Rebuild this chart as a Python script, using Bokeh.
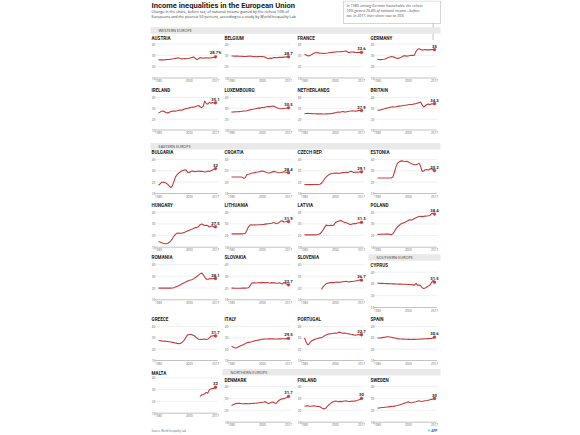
from bokeh.plotting import figure
from bokeh.models import Range1d
from bokeh.core.properties import value
from bokeh.embed import file_html
from bokeh.resources import INLINE

nan = float("nan")

# ---------------- data ----------------
years = list(range(1980, 2018))
y_ticks = [40, 30, 20, 10]
y_tick_labels = ["40", "30", "20", "10"]
x_ticks = [1980, 2000, 2017]
x_tick_labels = ["1980", "2000", "2017"]
grid_values = [20, 30, 40]

austria = [26.0,26.0,26.1,26.0,26.1,26.2,26.3,26.4,26.6,26.8, 27.0,27.3,27.6,27.8,27.2,26.9,27.0,27.1,27.0,27.2,
           27.4,27.8,28.2,28.5,27.2,26.2,27.0,27.8,27.9,27.5, 27.6,27.9,27.6,27.5,27.8,28.0,28.2,28.7]
belgium = [29.4,29.4,29.3,29.3,29.3,29.2,29.2,29.1,29.0,29.0, 29.1,29.2,29.3,29.2,29.0,28.9,28.8,28.9,29.0,29.0,
           28.9,28.7,28.2,27.4,27.0,27.6,27.3,27.9,28.1,27.8, 28.0,28.2,28.3,28.2,28.4,28.5,28.6,28.7]
france = [31.0,30.3,29.6,29.5,30.2,31.0,31.8,32.3,32.5,32.2, 31.9,31.8,31.7,31.6,31.8,32.0,32.3,32.5,32.6,32.8,
          33.0,33.1,33.2,33.2,33.3,33.4,33.6,33.8,33.0,32.2, 33.0,32.9,32.8,32.6,32.5,32.7,32.6,32.6]
germany = [26.4,26.3,26.2,26.3,26.5,26.8,27.4,28.0,28.6,29.0, 28.8,28.2,27.6,27.3,27.5,28.0,28.8,29.6,29.5,29.3,
           29.4,29.8,30.0,30.0,30.2,33.5,35.4,35.8,35.2,34.6, 34.9,35.0,34.8,34.9,34.8,35.1,35.0,35.0]
ireland = [25.8,26.5,27.3,27.6,26.8,25.9,25.8,26.3,27.0,27.4, 27.6,27.4,27.8,28.3,28.5,28.3,28.8,29.3,29.8,30.0,
           30.4,30.8,31.2,31.0,31.6,32.2,32.6,31.5,30.6,31.8, 36.8,34.5,33.8,35.6,34.6,35.4,35.0,35.1]
luxembourg = [26.5,26.6,26.7,26.8,26.9,27.0,27.1,27.3,27.5,27.6, 27.8,28.2,28.6,28.9,29.2,29.4,29.8,30.1,30.4,30.2,
              31.0,30.6,31.2,31.5,31.8,31.4,31.9,32.2,31.6,30.8, 30.3,29.8,29.6,29.7,29.9,30.1,30.2,30.5]
netherlands = [25.0,25.2,25.4,25.3,25.2,25.1,25.0,25.0,24.9,24.9, 24.9,24.9,24.8,24.8,24.9,24.9,25.0,25.1,25.2,25.6,
               26.0,26.4,26.6,26.4,26.8,27.0,26.7,26.6,27.0,27.3, 27.5,27.8,27.6,27.4,27.5,27.9,28.2,27.9]
britain = [28.2,28.3,28.6,29.0,29.4,29.8,30.2,30.5,30.9,31.2, 31.4,31.3,31.5,31.8,32.0,32.2,32.4,32.6,32.8,33.0,
           33.3,33.5,33.6,33.8,34.1,34.4,34.8,35.3,35.8,33.2, 31.2,32.4,33.6,34.0,33.4,34.2,34.0,34.3]
bulgaria = [17.3,18.5,19.8,20.2,19.6,19.2,18.0,16.5,15.2,16.8, 20.5,24.5,26.5,28.0,29.0,29.8,30.4,31.0,30.6,28.5,
            28.6,29.4,29.8,29.5,29.2,29.6,29.8,29.5,29.7,29.4, 28.9,29.2,29.8,29.5,30.0,30.8,31.5,32.0]
croatia = [24.6,24.6,24.5,24.6,24.6,24.5,24.6,24.4,23.3,24.0, 26.7,27.0,27.4,27.8,28.1,28.4,28.7,28.9,29.2,29.5,
           29.8,29.5,29.0,28.5,28.1,28.3,28.8,29.3,29.5,29.0, 28.6,28.3,28.5,28.8,29.1,28.9,28.8,28.4]
czech = [17.9,17.9,17.8,17.8,17.8,17.8,17.9,17.9,17.9,18.0, 18.1,19.0,20.8,22.8,24.5,25.8,26.8,27.4,27.7,27.9,
         28.0,28.0,27.8,27.9,28.2,28.4,28.6,28.8,28.6,29.0, 29.6,29.2,28.6,28.7,29.0,28.8,29.1,29.1]
estonia = [23.7,23.7,23.7,23.7,23.7,23.7,23.7,23.7,23.7,23.8, 24.5,29.0,33.5,36.8,37.8,38.6,38.8,38.5,38.3,38.5,
           37.8,37.0,36.2,35.8,35.5,35.4,35.9,36.8,34.0,29.5, 29.8,31.0,31.2,30.8,31.6,31.9,30.8,30.2]
hungary = [14.9,14.4,13.9,13.4,13.1,13.0,13.4,14.2,15.5,17.4, 19.4,21.0,22.0,22.2,22.0,22.1,22.3,22.8,23.4,24.0,
           24.5,25.1,25.6,26.2,26.8,27.0,27.6,29.3,29.8,29.2, 28.6,28.8,28.5,27.2,27.9,28.4,27.3,27.5]
lithuania = [21.4,21.4,21.4,21.4,21.4,21.4,21.4,21.4,21.5,22.0, 24.5,27.5,29.0,29.2,29.0,29.1,29.0,29.2,29.3,29.2,
             29.5,29.6,29.8,30.0,30.1,30.3,30.5,30.9,31.0,30.2, 30.6,31.2,32.4,32.7,31.6,31.8,32.2,31.9]
latvia = [20.6,20.6,20.6,20.6,20.6,20.6,20.6,20.6,20.7,20.9, 21.5,22.8,24.8,27.0,28.9,28.5,28.6,28.7,28.6,28.9,
          31.0,31.8,32.3,32.8,32.6,31.9,31.3,31.0,30.6,29.8, 29.5,29.9,30.4,30.0,30.6,30.9,31.0,31.3]
poland = [21.1,21.0,21.1,21.2,21.1,21.3,21.2,21.3,21.0,20.8, 21.5,23.5,26.0,27.5,28.6,29.8,30.4,31.0,31.5,32.2,
          33.0,33.5,33.2,33.8,34.6,35.2,35.8,36.3,36.5,36.2, 36.4,36.6,36.8,36.9,37.2,38.6,39.2,38.4]
romania = [19.9,19.9,19.9,19.9,19.9,19.9,19.9,19.9,19.9,20.0, 20.3,20.8,21.4,22.0,22.6,23.4,24.0,24.6,25.3,26.0,
           26.6,26.8,27.2,28.0,29.0,30.0,31.0,32.0,32.9,31.5, 29.4,27.6,27.4,27.8,28.0,27.9,28.2,28.1]
slovakia = [19.9,19.9,19.8,19.8,19.8,19.8,19.8,19.9,19.9,19.9, 20.0,20.2,21.8,24.0,24.5,24.4,24.3,24.5,24.6,24.4,
            24.8,24.6,24.4,24.7,24.5,24.3,24.6,24.4,24.5,24.2, 24.0,24.5,23.8,23.4,24.8,23.9,23.2,22.7]
slovenia = [nan,nan,nan,nan,nan,nan,nan,nan,nan,nan, nan,18.8,21.0,22.3,23.6,24.0,24.4,24.6,24.8,24.6,
            24.9,25.1,24.8,24.9,25.2,25.3,25.5,25.7,25.4,25.2, 25.5,25.6,25.8,26.0,26.4,26.6,26.8,26.7]
cyprus = [30.7,30.6,30.5,30.5,30.4,30.4,30.3,30.3,30.2,30.2, 30.1,30.1,30.0,30.0,29.9,29.9,29.8,29.8,29.7,29.6,
          29.6,29.5,29.4,29.2,29.0,30.6,28.8,29.2,28.6,26.8, 26.2,26.6,27.4,28.2,29.0,31.0,33.0,31.5]
greece = [27.6,27.4,27.3,27.0,27.2,26.9,26.7,26.5,26.3,26.0, 25.8,25.5,25.1,24.9,25.0,25.6,26.8,28.6,31.0,32.6,
          33.0,32.9,32.6,32.0,31.0,29.8,28.8,28.5,28.6,28.8, 28.9,28.6,28.8,30.0,31.5,31.6,32.0,31.7]
italy = [22.6,22.0,21.3,21.1,21.6,22.3,23.0,23.6,24.2,25.0, 25.6,26.0,26.2,26.5,26.9,27.3,27.6,27.9,28.2,28.5,
         28.8,28.9,29.0,29.0,29.1,29.1,29.2,29.1,29.0,29.0, 28.9,29.1,29.1,29.2,29.2,29.1,29.3,29.5]
portugal = [30.0,26.5,23.8,24.5,26.8,27.6,28.2,28.8,29.2,29.6, 30.0,30.2,30.8,31.8,32.6,33.2,33.5,33.6,33.8,34.0,
            34.2,34.0,34.8,35.0,34.4,34.0,34.3,34.0,33.6,33.5, 33.2,33.0,32.6,32.4,32.5,32.9,32.6,32.7]
spain = [29.8,29.9,30.0,30.2,30.4,30.6,30.9,31.0,30.8,30.5, 30.2,29.9,29.6,29.3,29.1,29.0,29.0,28.9,28.8,28.7,
         28.6,28.6,28.5,28.6,28.6,28.7,28.7,28.8,28.9,29.0, 29.1,29.2,29.2,29.3,29.4,29.5,29.9,30.6]
malta = [nan,nan,nan,nan,nan,nan,nan,nan,nan,nan, nan,nan,nan,nan,nan,nan,nan,nan,nan,nan,
         nan,nan,nan,nan,nan,nan,nan,24.3,25.5,25.8, 26.5,27.6,27.0,29.8,30.6,30.9,31.0,32.0]
denmark = [24.0,24.6,25.3,25.6,25.8,25.9,25.7,25.5,25.5,25.6, 25.6,25.5,25.6,25.7,25.8,25.9,26.0,26.2,26.4,26.6,
           26.8,27.0,27.3,26.4,25.6,26.2,26.8,27.0,26.2,25.8, 27.4,28.4,29.3,29.6,29.8,30.4,30.8,31.7]
finland = [23.5,23.6,23.8,23.5,23.4,23.6,23.8,23.6,23.2,23.4, 23.0,22.2,21.4,21.2,22.0,23.6,24.8,25.8,26.8,27.4,
           27.8,27.6,27.2,27.5,27.3,27.6,27.8,28.0,27.6,27.2, 27.5,27.8,27.6,27.9,28.2,28.6,29.0,30.0]
sweden = [21.8,21.9,22.1,22.3,22.4,22.6,22.8,22.9,23.1,23.3, 23.2,23.5,23.8,24.1,24.5,24.9,25.3,25.8,26.2,26.6,
          27.2,26.6,26.4,26.6,26.9,27.2,27.6,28.0,27.6,27.4, 27.8,28.0,28.2,28.5,28.8,29.2,29.5,29.9]

countries = ["AUSTRIA", "BELGIUM", "FRANCE", "GERMANY",
             "IRELAND", "LUXEMBOURG", "NETHERLANDS", "BRITAIN",
             "BULGARIA", "CROATIA", "CZECH REP.", "ESTONIA",
             "HUNGARY", "LITHUANIA", "LATVIA", "POLAND",
             "ROMANIA", "SLOVAKIA", "SLOVENIA", "CYPRUS",
             "GREECE", "ITALY", "PORTUGAL", "SPAIN",
             "MALTA", "DENMARK", "FINLAND", "SWEDEN"]
series = [austria, belgium, france, germany,
          ireland, luxembourg, netherlands, britain,
          bulgaria, croatia, czech, estonia,
          hungary, lithuania, latvia, poland,
          romania, slovakia, slovenia, cyprus,
          greece, italy, portugal, spain,
          malta, denmark, finland, sweden]
end_labels = ["28.7%", "28.7", "32.6", "35",
              "35.1", "30.5", "27.9", "34.3",
              "32", "28.4", "29.1", "30.2",
              "27.5", "31.9", "31.3", "38.4",
              "28.1", "22.7", "26.7", "31.5",
              "31.7", "29.5", "32.7", "30.6",
              "32", "31.7", "30", "30"]

# ---------------- layout (positions / styles) ----------------
COL_X = [151, 224, 297, 370]
# (title_y, top_y for 40, bottom_y for 10)
ROW_GEOM = {
    "r1": (37.5, 43.5, 77.5),
    "r2": (90.0, 97.0, 129.5),
    "r3": (152.0, 159.0, 193.0),
    "r4": (205.0, 211.7, 246.7),
    "r5": (257.0, 264.0, 299.3),
    "r5c": (265.0, 271.7, 307.0),
    "r6": (319.0, 326.0, 360.0),
    "r7m": (372.7, 377.3, 412.7),
    "r7": (380.0, 386.0, 421.7),
}
PANEL_POS = [(0, "r1"), (1, "r1"), (2, "r1"), (3, "r1"),
             (0, "r2"), (1, "r2"), (2, "r2"), (3, "r2"),
             (0, "r3"), (1, "r3"), (2, "r3"), (3, "r3"),
             (0, "r4"), (1, "r4"), (2, "r4"), (3, "r4"),
             (0, "r5"), (1, "r5"), (2, "r5"), (3, "r5c"),
             (0, "r6"), (1, "r6"), (2, "r6"), (3, "r6"),
             (0, "r7m"), (1, "r7"), (2, "r7"), (3, "r7")]

RED = "#c43c3c"
DARK = "#222222"
SANS = value("Roboto")
BODY = value("Open Sans")

p = figure(width=580, height=435, x_range=Range1d(0, 580), y_range=Range1d(435, 0),
           output_backend="svg", toolbar_location=None, min_border=0,
           x_axis_location=None, y_axis_location=None,
           background_fill_color="white", border_fill_color="white",
           outline_line_color=None)
p.grid.visible = False

# ---- header ----
p.text(x=[151], y=[4.5], text=["Income inequalities in the European Union"],
       text_font=SANS, text_font_style="bold", text_font_size="7.6px",
       text_color=DARK, text_baseline="middle")
p.text(x=[151, 151], y=[10.8, 15.8],
       text=["Change in the share, before tax, of national income gained by the richest 10% of",
             "Europeans and the poorest 50 percent, according to a study by World Inequality Lab"],
       text_font=BODY, text_font_size="3.7px", text_color="#333333", text_baseline="middle")

# annotation box
p.quad(left=[343], right=[440], top=[0.5], bottom=[23], fill_color="white",
       line_color="#bbbbbb", line_width=0.6)
p.text(x=[346, 346, 346], y=[5, 10, 15],
       text=["In 1980, among German households, the richest",
             "10% gained 26.4% of national income - before",
             "tax. In 2017, their share rose to 35%"],
       text_font=BODY, text_font_style="italic", text_font_size="3.6px",
       text_color="#555555", text_baseline="middle")
p.segment(x0=[432.6], y0=[23], x1=[432.6], y1=[39.5], line_color="#999999", line_width=0.6)

# section bands
bands = [("WESTERN EUROPE", 150, 440, 30.0),
         ("EASTERN EUROPE", 150, 440, 145.7),
         ("SOUTHERN EUROPE", 368, 440, 257.0),
         ("NORTHERN EUROPE", 222, 440, 371.8)]
for name, l, r, cy in bands:
    p.quad(left=[l], right=[r], top=[cy - 3.2], bottom=[cy + 3.2],
           fill_color="#e9e9e9", line_color=None)
    p.text(x=[l + 8], y=[cy], text=[name], text_font=BODY, text_font_size="3.9px",
           text_color="#444444", text_baseline="middle")

# ---- panels ----
for name, vals, lab, (col, rk) in zip(countries, series, end_labels, PANEL_POS):
    cx = COL_X[col]
    ty, top, bot = ROW_GEOM[rk]
    p.text(x=[cx], y=[ty], text=[name], text_font=SANS, text_font_style="bold",
           text_font_size="4.6px", text_color=DARK, text_baseline="middle")
    sub = p.subplot(x_source=Range1d(1980, 2017), y_source=Range1d(10, 40),
                    x_target=Range1d(cx + 7, cx + 64), y_target=Range1d(bot, top))
    n = len(grid_values)
    sub.segment(x0=[1977.5] * n, y0=grid_values, x1=[2018.5] * n, y1=grid_values,
                line_color="#cfcfcf", line_width=0.6, line_dash="1 1")
    sub.segment(x0=[1977.5], y0=[10], x1=[2018.5], y1=[10],
                line_color="#9a9a9a", line_width=0.6)
    sub.text(x=[1980] * len(y_ticks), y=y_ticks, text=y_tick_labels, x_offset=-5,
             text_font=BODY, text_font_size="3px", text_color="#666666",
             text_align="center", text_baseline="middle")
    sub.text(x=x_ticks, y=[10] * len(x_ticks), text=x_tick_labels, y_offset=1.2,
             text_font=BODY, text_font_size="3px", text_color="#666666",
             text_align="center", text_baseline="top")
    sub.line(x=years, y=vals, line_color=RED, line_width=1.1)
    sub.scatter(x=[years[-1]], y=[vals[-1]], size=2.8, fill_color=RED, line_color=RED,
                line_width=0.5)
    sub.text(x=[years[-1]], y=[vals[-1]], text=[lab], y_offset=-2.0,
             text_font=SANS, text_font_style="bold", text_font_size="4.2px",
             text_color=DARK, text_align="center", text_baseline="bottom")

# footer
p.text(x=[151], y=[430], text=["Source: World Inequality Lab"], text_font=BODY,
       text_font_size="2.6px", text_color="#666666", text_baseline="middle")
p.text(x=[437], y=[430.5], text=["\u00a9 AFP"], text_font=SANS, text_font_style="bold",
       text_font_size="3.4px", text_color="#2b5aa8", text_baseline="middle", text_align="right")

open("out.html", "w").write(file_html(p, INLINE))
